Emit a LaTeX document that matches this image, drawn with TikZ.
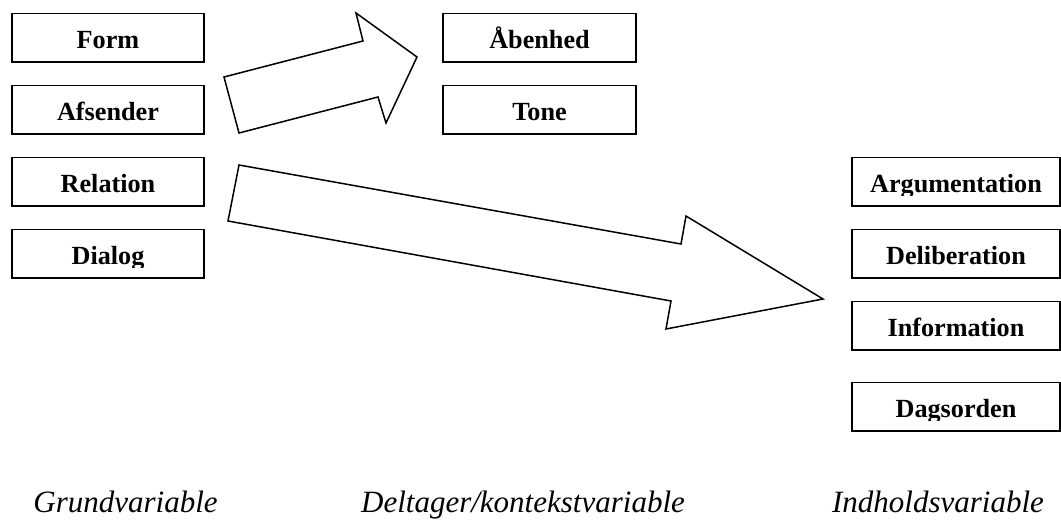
\documentclass[tikz,border=0pt]{standalone}
\usepackage{fontspec}
\setmainfont{Liberation Serif}
\usepackage{adjustbox}
\usetikzlibrary{positioning}
\tikzset{
    varbox/.style={ % framed variable box
        draw,
        rectangle,
        line width=1.5pt,
        minimum width=192pt,
        minimum height=48.5pt,
        inner sep=0pt,
        outer sep=0pt,
        text height=24pt,
        text depth=3pt,
        font=\fontsize{26.2}{30}\selectfont\bfseries
    },
    bigarrow/.style={
        draw,
        line width=1.5pt,
        fill=white
    },
    collabel/.style={
        anchor=base,
        font=\fontsize{31}{36}\selectfont\itshape
    }
}
% text cut off just below the baseline, as in a too small text frame
\newcommand{\cuttext}[1]{\clipbox{0pt {\depth-3pt} 0pt 0pt}{#1}}

\begin{document}
\begin{tikzpicture}[x=1pt,y=1pt]
        \useasboundingbox (0,0) rectangle (1061,-522);
        \def\gap{23.5}
        % Grundvariable
        \node[varbox] (form) at (108,-37.5) {\cuttext{Form}};
        \node[varbox, below = \gap pt of form] (afsender) {\cuttext{Afsender}};
        \node[varbox, below = \gap pt of afsender] (relation) {\cuttext{Relation}};
        \node[varbox, below = \gap pt of relation] (dialog) {\cuttext{Dialog}};
        % Deltager/kontekstvariable
        \node[varbox, minimum width=193pt] (aabenhed) at (539.5,-37.5) {\cuttext{Åbenhed}};
        \node[varbox, minimum width=193pt, below = \gap pt of aabenhed] (tone) {\cuttext{Tone}};
        % Indholdsvariable
        \node[varbox, minimum width=208pt] (argum) at (956,-181.5) {\cuttext{Argumentation}};
        \node[varbox, minimum width=208pt, below = \gap pt of argum] (delib) {\cuttext{Deliberation}};
        \node[varbox, minimum width=208pt, below = \gap pt of delib] (inform) {\cuttext{Information}};
        \node[varbox, minimum width=208pt, below = 32.5pt of inform] (dagsorden) {\cuttext{Dagsorden}};
        
        
        \draw[bigarrow] (239,-133) -- (224,-77) -- (363,-41) -- (356,-13) -- (417,-57) -- (386,-123) -- (378,-97) -- cycle;
        \draw[bigarrow] (228,-221) -- (239,-165) -- (681,-244) -- (686,-216) -- (823,-299) -- (666,-329) -- (671,-301) -- cycle;
        
        
        \node[collabel] (grund) at (125.5,-512) {Grundvariable};
        \node[collabel] (deltager) at (523,-512) {Deltager/kontekstvariable};
        \node[collabel] (indhold) at (938,-512) {Indholdsvariable};

        
    \end{tikzpicture}
\end{document}
